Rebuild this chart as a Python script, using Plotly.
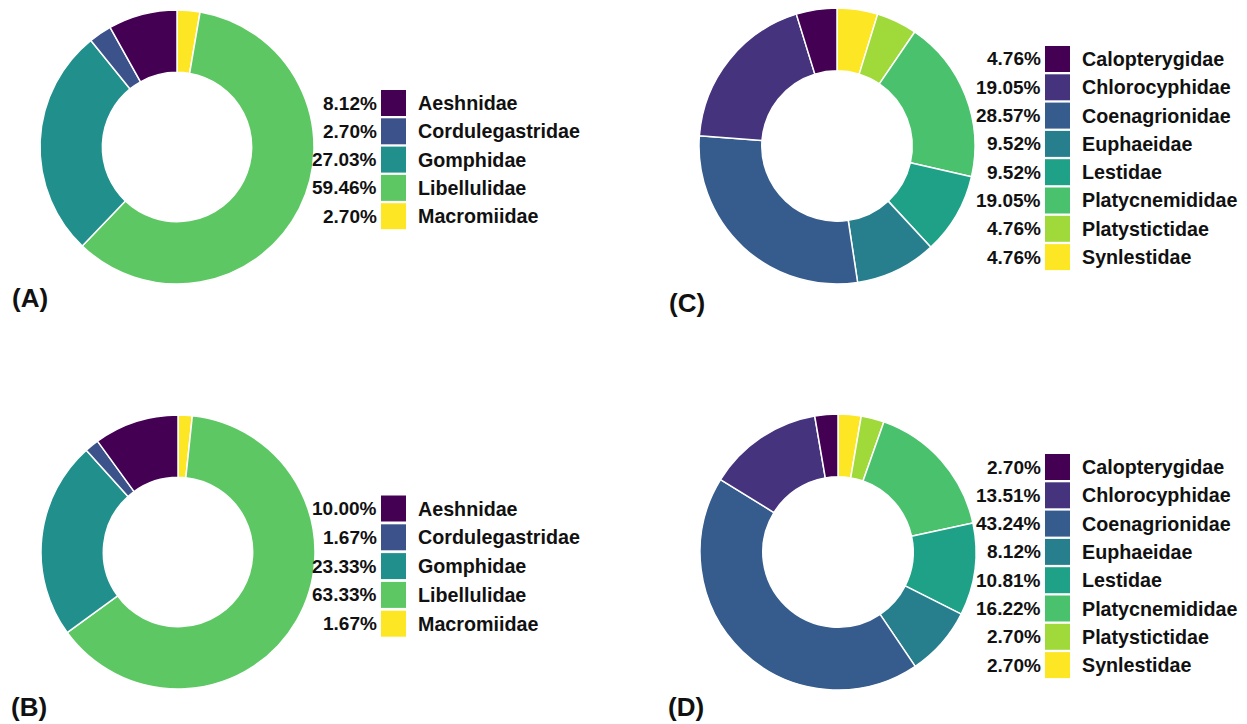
import plotly.graph_objects as go

# page has an 8px body margin at top/left; figure fills the rest of the 1247x724 window
OFF = 8
W, H = 1247 - OFF, 724 - OFF

# ---- data ----
families_ab = ["Aeshnidae", "Cordulegastridae", "Gomphidae", "Libellulidae", "Macromiidae"]
pct_a = [8.12, 2.70, 27.03, 59.46, 2.70]
pct_b = [10.00, 1.67, 23.33, 63.33, 1.67]

families_cd = ["Calopterygidae", "Chlorocyphidae", "Coenagrionidae", "Euphaeidae",
               "Lestidae", "Platycnemididae", "Platystictidae", "Synlestidae"]
pct_c = [4.76, 19.05, 28.57, 9.52, 9.52, 19.05, 4.76, 4.76]
pct_d = [2.70, 13.51, 43.24, 8.12, 10.81, 16.22, 2.70, 2.70]

panel_labels = ["(A)", "(B)", "(C)", "(D)"]

viridis5 = ["#440154", "#3B528B", "#21908C", "#5DC863", "#FDE725"]
viridis8 = ["#440154", "#46337E", "#365C8D", "#277F8E", "#1FA187", "#4AC16D", "#9FDA3A", "#FDE725"]

# ---- layout (pixel geometry in window coordinates) ----
panels = [
    dict(names=families_ab, vals=pct_a, cols=viridis5, cx=177, cy=147, r=137, sx=381, ry=103, row=28.3, labpos=(10, 298)),
    dict(names=families_ab, vals=pct_b, cols=viridis5, cx=178, cy=552, r=137, sx=381, ry=508.5, row=28.8, labpos=(9, 707)),
    dict(names=families_cd, vals=pct_c, cols=viridis8, cx=837, cy=146, r=138, sx=1045, ry=59, row=28.3, labpos=(667, 303)),
    dict(names=families_cd, vals=pct_d, cols=viridis8, cx=838, cy=552, r=138, sx=1045, ry=467, row=28.3, labpos=(666, 707)),
]
SW_W, SW_H = 25, 26
FONT = "Liberation Sans, Arial, sans-serif"


def clamp(v):
    return min(1.0, max(0.0, v))


def px(x):
    return (x - OFF) / W


def py(y):
    return 1 - (y - OFF) / H


fig = go.Figure()
shapes = []
annotations = []

for p, label_text in zip(panels, panel_labels):
    # ggplot-style: start at 12 o'clock, clockwise, last category first
    fig.add_trace(go.Pie(
        labels=p["names"][::-1], values=p["vals"][::-1], sort=False,
        direction="clockwise", rotation=0, hole=0.545,
        marker=dict(colors=p["cols"][::-1], line=dict(color="white", width=1.5)),
        textinfo="none", hoverinfo="label+percent", showlegend=False,
        domain=dict(x=[clamp(px(p["cx"] - p["r"])), clamp(px(p["cx"] + p["r"]))],
                    y=[clamp(py(p["cy"] + p["r"])), clamp(py(p["cy"] - p["r"]))]),
    ))
    for i, (nm, v, c) in enumerate(zip(p["names"], p["vals"], p["cols"])):
        yc = p["ry"] + i * p["row"]
        shapes.append(dict(type="rect", xref="paper", yref="paper",
                           x0=px(p["sx"]), x1=px(p["sx"] + SW_W),
                           y0=py(yc + SW_H / 2), y1=py(yc - SW_H / 2),
                           fillcolor=c, line=dict(width=0)))
        annotations.append(dict(xref="paper", yref="paper", x=px(p["sx"] - 2), y=py(yc),
                                xanchor="right", yanchor="middle", showarrow=False,
                                text=f"{v:.2f}%",
                                font=dict(family=FONT, size=19, color="#111111", weight="bold")))
        annotations.append(dict(xref="paper", yref="paper", x=px(p["sx"] + SW_W + 10), y=py(yc),
                                xanchor="left", yanchor="middle", showarrow=False,
                                text=nm,
                                font=dict(family=FONT, size=19.7, color="#111111", weight="bold")))
    lx, ly = p["labpos"]
    annotations.append(dict(xref="paper", yref="paper", x=px(lx), y=py(ly),
                            xanchor="left", yanchor="middle", showarrow=False, text=label_text,
                            font=dict(family=FONT, size=26, color="#111111", weight="bold")))

fig.update_layout(width=W, height=H, margin=dict(l=0, r=0, t=0, b=0),
                  paper_bgcolor="white", plot_bgcolor="white",
                  shapes=shapes, annotations=annotations, showlegend=False)

fig.write_html("out.html")
